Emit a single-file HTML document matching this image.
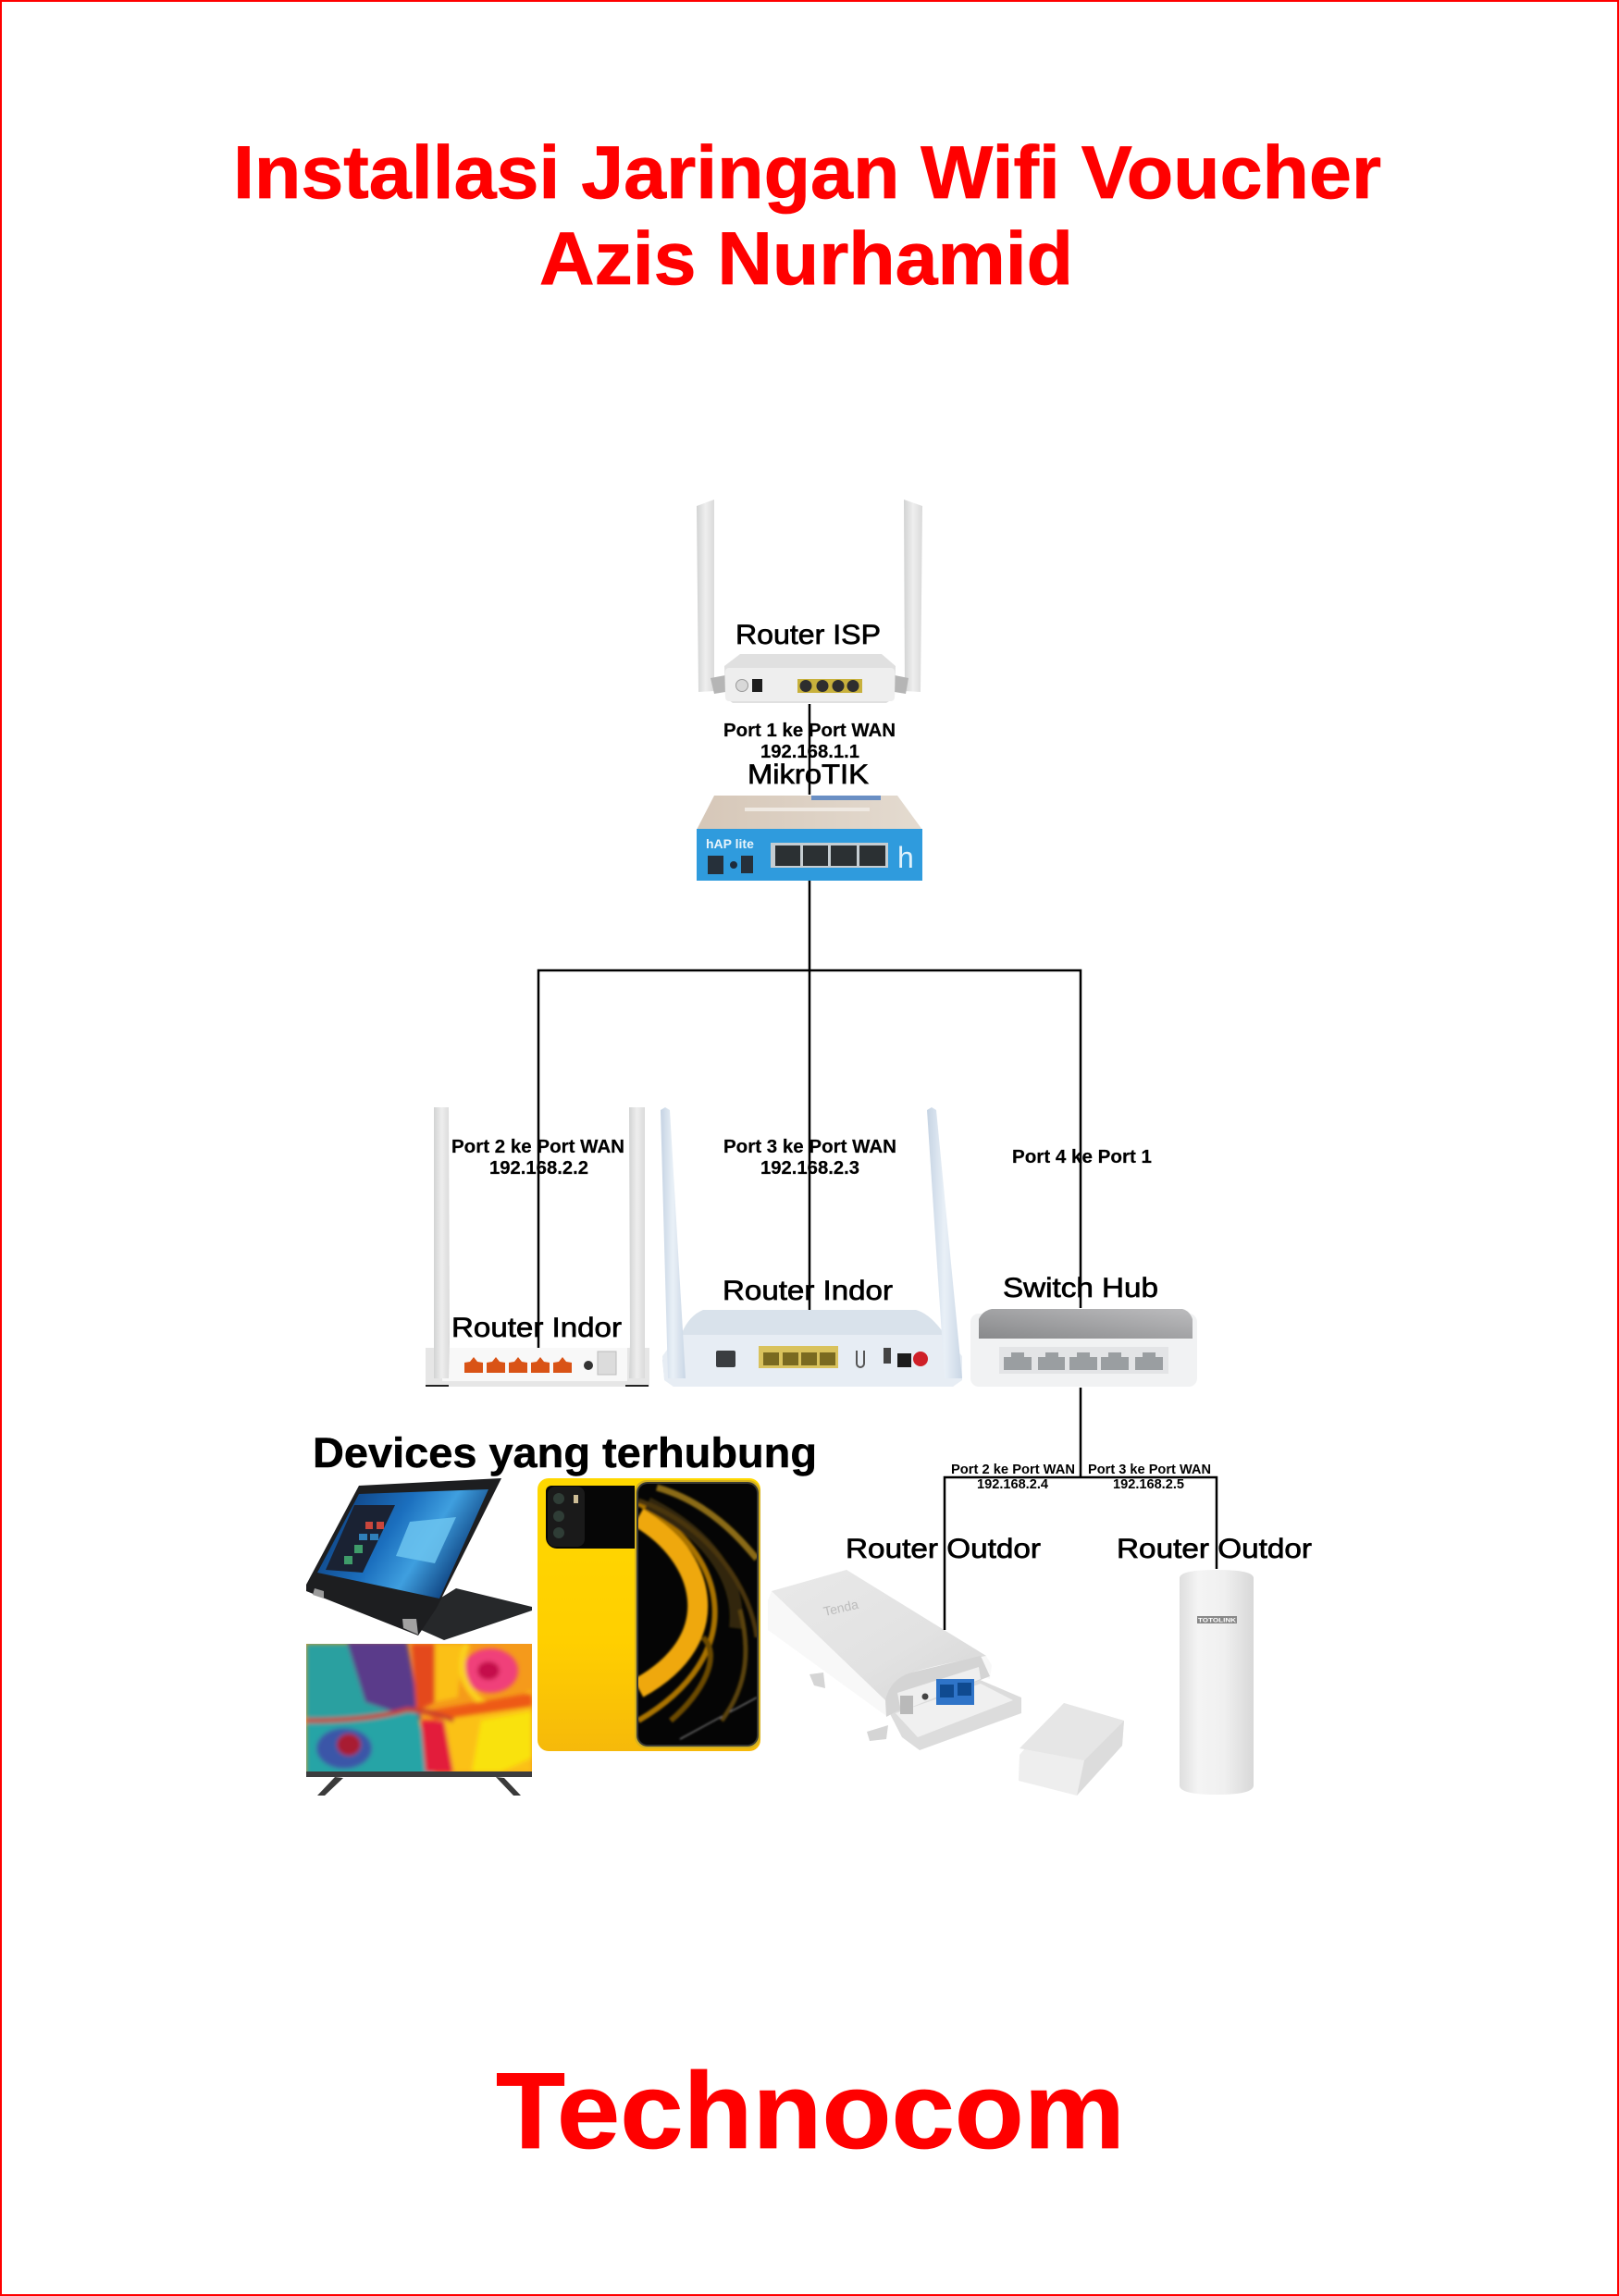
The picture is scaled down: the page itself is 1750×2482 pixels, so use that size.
<!DOCTYPE html>
<html><head><meta charset="utf-8"><title>Installasi Jaringan Wifi Voucher</title>
<style>html,body{margin:0;padding:0;background:#fff}svg{display:block}text{font-family:"Liberation Sans",Arial,sans-serif}</style></head>
<body>
<svg xmlns="http://www.w3.org/2000/svg" width="1750" height="2482" viewBox="0 0 1750 2482">
<defs>
<linearGradient id="ant" x1="0" x2="1" y1="0" y2="0"><stop offset="0" stop-color="#d2d3d3"/><stop offset=".5" stop-color="#eeeeee"/><stop offset="1" stop-color="#dadada"/></linearGradient>
<linearGradient id="antb" x1="0" x2="1" y1="0" y2="0"><stop offset="0" stop-color="#c5d3e3"/><stop offset=".5" stop-color="#e9f0f7"/><stop offset="1" stop-color="#c9d6e5"/></linearGradient>
<linearGradient id="yel" x1="0" x2="0" y1="0" y2="1"><stop offset="0" stop-color="#ffd800"/><stop offset=".6" stop-color="#ffcf00"/><stop offset="1" stop-color="#f6b90a"/></linearGradient>
<linearGradient id="win" x1="0" x2="1" y1="0" y2=".4"><stop offset="0" stop-color="#0a2f68"/><stop offset=".5" stop-color="#1b6fbe"/><stop offset=".72" stop-color="#3f9fdf"/><stop offset="1" stop-color="#0a3a78"/></linearGradient>
<linearGradient id="tt" x1="0" x2="1" y1="0" y2="0"><stop offset="0" stop-color="#dedede"/><stop offset=".25" stop-color="#f4f4f4"/><stop offset=".6" stop-color="#f0f0f0"/><stop offset="1" stop-color="#d8d8d8"/></linearGradient>
<linearGradient id="tsw" x1="1" x2="0" y1="0" y2="1"><stop offset="0" stop-color="#bcbcbe"/><stop offset="1" stop-color="#88898b"/></linearGradient>
<linearGradient id="td" x1="0" x2="1" y1="0" y2="1"><stop offset="0" stop-color="#e9e9e9"/><stop offset=".6" stop-color="#e2e2e2"/><stop offset="1" stop-color="#d6d6d6"/></linearGradient>
<linearGradient id="beige" x1="0" x2="1" y1="0" y2="0"><stop offset="0" stop-color="#d6c7b8"/><stop offset="1" stop-color="#e4dbd0"/></linearGradient>
<filter id="b4" x="-20%" y="-20%" width="140%" height="140%"><feGaussianBlur stdDeviation="2.500"/></filter>
<filter id="b1" x="-10%" y="-10%" width="120%" height="120%"><feGaussianBlur stdDeviation="1"/></filter>
<clipPath id="tvc"><rect x="331" y="1777" width="244" height="139"/></clipPath>
<clipPath id="scr"><rect x="690" y="1604" width="128" height="282" rx="10"/></clipPath>
</defs>
<rect width="1750" height="2482" fill="#fff"/>
<rect x="1" y="1" width="1748" height="2480" fill="none" stroke="#ff0000" stroke-width="2"/>

<!-- Router ISP -->
<polygon points="753,547 772,540 772,747 755,748" fill="url(#ant)"/>
<polygon points="977,540 997,547 995,748 978,747" fill="url(#ant)"/>
<polygon points="768,733 784,730 784,748 772,750" fill="#b5b5b5"/>
<polygon points="967,730 982,733 979,750 967,748" fill="#b5b5b5"/>
<polygon points="800,707 953,707 968,720 967,754 958,760 792,760 784,754 783,720" fill="#e0e0e0"/>
<rect x="784" y="722" width="183" height="36" rx="4" fill="#eeeeee"/>
<circle cx="802" cy="741" r="6.500" fill="#d8d8d8" stroke="#999"/>
<rect x="813" y="734" width="11" height="14" fill="#1e1e1e"/>
<rect x="862" y="734" width="70" height="15" fill="#c8b13c"/>
<circle cx="871" cy="741.500" r="6.500" fill="#2e2e2e"/><circle cx="889" cy="741.500" r="6.500" fill="#2e2e2e"/><circle cx="906" cy="741.500" r="6.500" fill="#2e2e2e"/><circle cx="922" cy="741.500" r="6.500" fill="#2e2e2e"/>

<!-- MikroTik -->
<polygon points="772,860 970,860 997,897 753,897" fill="url(#beige)"/>
<rect x="877" y="860" width="75" height="5" fill="#6a8fc4"/>
<rect x="805" y="873" width="135" height="4" fill="#efe9e2"/>
<rect x="753" y="896" width="244" height="56" fill="#2f9bdd"/>
<rect x="833" y="911" width="127" height="27" fill="#c5cdd2"/>
<rect x="838" y="914" width="27" height="22" fill="#2b3033"/><rect x="868" y="914" width="27" height="22" fill="#2b3033"/><rect x="898" y="914" width="28" height="22" fill="#2b3033"/><rect x="929" y="914" width="28" height="22" fill="#2b3033"/>
<rect x="765" y="925" width="17" height="20" fill="#26303a"/><circle cx="793" cy="935" r="4" fill="#1d2c3d"/><rect x="801" y="925" width="13" height="19" fill="#26303a"/>
<text x="763" y="917" font-size="14" font-weight="bold" fill="#e8f4fb">hAP lite</text>
<text x="970" y="938" font-size="32" fill="#dff1fb">h</text>

<!-- Left indoor router -->
<rect x="460" y="1457" width="242" height="42" fill="#e6e6e6"/>
<rect x="478" y="1457" width="200" height="36" fill="#f8f8f8"/>
<path d="M469,1197h16l1,255l-1,38h-16z" fill="url(#ant)"/>
<path d="M680,1197h17v293h-17l1,-38z" fill="url(#ant)"/>
<g fill="#d95316"><path d="M502,1484v-11l6,-1 4,-5 4,5 6,1v11z"/><path d="M526,1484v-11l6,-1 4,-5 4,5 6,1v11z"/><path d="M550,1484v-11l6,-1 4,-5 4,5 6,1v11z"/><path d="M574,1484v-11l6,-1 4,-5 4,5 6,1v11z"/><path d="M598,1484v-11l6,-1 4,-5 4,5 6,1v11z"/></g>
<circle cx="636" cy="1476" r="5" fill="#333"/>
<rect x="646" y="1461" width="20" height="25" fill="#dcdcdc" stroke="#bbb"/>
<rect x="460" y="1497" width="25" height="2" fill="#222"/><rect x="676" y="1497" width="25" height="2" fill="#222"/>

<!-- Middle indoor router -->
<path d="M760,1416 H990 Q1005,1420 1020,1441 L1040,1470 V1490 L1030,1499 H728 L718,1490 L716,1470 L737,1441 Q745,1422 760,1416Z" fill="#d9e2eb"/>
<polygon points="733,1443 1020,1443 1040,1466 1040,1492 1030,1499 728,1499 718,1492 716,1466" fill="#e7edf4"/>
<polygon points="714,1200 719,1197 724,1200 741,1490 722,1490" fill="url(#antb)"/>
<polygon points="1002,1200 1007,1197 1012,1200 1040,1490 1021,1490" fill="url(#antb)"/>
<rect x="774" y="1460" width="21" height="18" rx="2" fill="#3a3d40"/>
<rect x="820" y="1455" width="86" height="24" fill="#d9c25c"/>
<rect x="825" y="1462" width="17" height="14" fill="#7a6a20"/><rect x="846" y="1462" width="17" height="14" fill="#7a6a20"/><rect x="866" y="1462" width="17" height="14" fill="#7a6a20"/><rect x="886" y="1462" width="17" height="14" fill="#7a6a20"/>
<path d="M926,1460v14a4,4 0 0 0 8,0v-14" fill="none" stroke="#555" stroke-width="2"/>
<rect x="955" y="1457" width="8" height="17" fill="#444"/>
<rect x="970" y="1463" width="15" height="15" fill="#1c1c1c"/>
<circle cx="995" cy="1469" r="8" fill="#cf2028"/>

<!-- Switch -->
<rect x="1049" y="1420" width="245" height="79" rx="9" fill="#f1f2f3"/>
<path d="M1072,1415 H1278 Q1286,1417 1289,1426 V1447 H1058 V1426 Q1062,1417 1072,1415Z" fill="url(#tsw)"/>
<rect x="1080" y="1456" width="183" height="29" fill="#e3e4e6"/>
<g fill="#9a9ea1"><path d="M1085,1481v-14h8v-5h14v5h8v14z"/><path d="M1122,1481v-14h8v-5h14v5h7v14z"/><path d="M1156,1481v-14h8v-5h14v5h8v14z"/><path d="M1190,1481v-14h8v-5h14v5h8v14z"/><path d="M1227,1481v-14h8v-5h14v5h8v14z"/></g>

<!-- Laptop -->
<polygon points="493,1717 575,1737 575,1741 480,1773 435,1753" fill="#26282a"/>
<polygon points="388,1606 542,1598 472,1738 452,1768 331,1720 331,1713" fill="#1d1e20"/>
<polygon points="388,1615 528,1610 475,1728 343,1700" fill="url(#win)"/>
<polygon points="383,1627 427,1627 392,1700 352,1697" fill="#1a2233"/>
<polygon points="443,1645 493,1640 470,1690 428,1682" fill="#6cc4f0" opacity=".85"/>
<g fill="#c9463c"><rect x="395" y="1645" width="8" height="8"/><rect x="407" y="1645" width="8" height="8"/></g>
<g fill="#3f9c6a"><rect x="372" y="1682" width="9" height="9"/><rect x="383" y="1670" width="9" height="9"/></g>
<g fill="#2f7fb8"><rect x="388" y="1658" width="9" height="7"/><rect x="400" y="1658" width="9" height="7"/></g>
<polygon points="340,1717 350,1720 350,1728 338,1724" fill="#9a9a9a"/><polygon points="435,1750 450,1750 452,1767 436,1760" fill="#a2a2a2"/>

<!-- TV -->
<g clip-path="url(#tvc)">
<rect x="331" y="1777" width="244" height="139" fill="#f59a1b"/>
<g filter="url(#b4)">
<polygon points="331,1777 440,1777 450,1850 331,1870" fill="#2aa0a0"/>
<polygon points="375,1775 440,1775 455,1860 395,1840" fill="#5a3a8a"/>
<polygon points="331,1860 450,1850 470,1920 331,1920" fill="#26a4a6"/>
<ellipse cx="372" cy="1890" rx="30" ry="22" fill="#3a56a8"/>
<ellipse cx="377" cy="1886" rx="13" ry="12" fill="#a81d33"/>
<polygon points="445,1777 475,1777 470,1840 450,1850" fill="#e4481d"/>
<polygon points="470,1777 500,1777 495,1835 470,1840" fill="#fbc018"/>
<ellipse cx="530" cy="1806" rx="30" ry="24" fill="#f0407a"/>
<ellipse cx="528" cy="1806" rx="12" ry="10" fill="#c5104c"/>
<path d="M505,1777 Q490,1810 515,1835 T575,1830" fill="none" stroke="#fbd21e" stroke-width="7"/>
<polygon points="460,1850 575,1830 575,1870 470,1860" fill="#ee5a14"/>
<polygon points="470,1860 575,1845 575,1916 475,1916" fill="#fbc116"/>
<polygon points="520,1860 575,1850 575,1900 540,1916 510,1916" fill="#f9e20e"/>
<polygon points="455,1860 480,1860 490,1916 460,1916" fill="#e31c3a"/>
<path d="M331,1860 Q400,1860 440,1848 Q470,1850 490,1860" fill="none" stroke="#c9402a" stroke-width="5"/>
</g>
</g>
<rect x="331" y="1915" width="244" height="6" fill="#3c3c3e"/>
<path d="M362,1921 L371,1922 L351,1941 H343 Z" fill="#3a3a3a"/><path d="M536,1921 L545,1922 L563,1941 H555 Z" fill="#3a3a3a"/>

<!-- Phone -->
<rect x="581" y="1598" width="241" height="295" rx="12" fill="url(#yel)"/>
<path d="M596,1606H686V1674H602a12,12 0 0 1 -12,-12V1612a6,6 0 0 1 6,-6z" fill="#060606"/>
<rect x="592" y="1607" width="40" height="65" rx="8" fill="#1a1a1a"/>
<circle cx="604" cy="1620" r="6" fill="#2f3d36"/><circle cx="604" cy="1639" r="6" fill="#2f3d36"/><circle cx="604" cy="1657" r="6" fill="#2f3d36"/><rect x="620" y="1616" width="5" height="9" fill="#cdbd96"/>
<rect x="686" y="1600" width="136" height="290" rx="13" fill="#d3b021"/>
<rect x="688" y="1602" width="132" height="286" rx="12" fill="#3a3a32"/>
<rect x="690" y="1604" width="128" height="282" rx="10" fill="#050505"/>
<g clip-path="url(#scr)" fill="none" filter="url(#b1)">
<path d="M690,1640 C760,1680 790,1770 690,1825" stroke="#efa80c" stroke-width="22"/>
<path d="M690,1625 C790,1680 810,1790 690,1860" stroke="#a87206" stroke-width="6"/>
<path d="M700,1625 C780,1665 800,1720 795,1760" stroke="#332708" stroke-width="14"/>
<path d="M710,1608 C770,1625 805,1670 818,1685" stroke="#8a6a12" stroke-width="7"/>
<path d="M690,1622 C770,1650 812,1720 818,1770" stroke="#4a3608" stroke-width="5"/>
<path d="M760,1770 C780,1790 760,1830 725,1860" stroke="#6a4a06" stroke-width="6"/>
<path d="M735,1880 L818,1835" stroke="#9a9a9a" stroke-width="1"/>
<path d="M800,1740 C810,1780 810,1820 780,1860" stroke="#5a4208" stroke-width="5"/>
</g>

<!-- Tenda -->
<polygon points="875,1810 890,1808 892,1825 880,1822" fill="#d5d5d5"/><polygon points="937,1872 960,1865 958,1880 940,1882" fill="#d5d5d5"/>
<polygon points="957,1843 1057,1815 1104,1835 1104,1852 994,1892 975,1878" fill="#dcdcdc"/>
<polygon points="968,1852 1060,1820 1095,1838 992,1878" fill="#f0f0f0"/>
<path d="M834,1720 L915,1697 L1066,1790 L1072,1800 L1070,1815 L1060,1812 L968,1848 L958,1855 L830,1762 L830,1730 Z" fill="#f8f8f8"/>
<path d="M834,1720 L915,1697 L1066,1790 Q1020,1798 985,1808 Q965,1815 957,1838 Z" fill="url(#td)"/>
<path d="M957,1838 Q962,1815 985,1808 L1060,1790 L1070,1812 L1060,1816 L969,1850 L958,1856 Z" fill="#d4d4d4"/>
<polygon points="970,1830 1058,1802 1060,1815 974,1850" fill="#efefef"/>
<rect x="1012" y="1815" width="41" height="28" fill="#2f74c8"/>
<rect x="1016" y="1821" width="15" height="14" fill="#0f4a90"/><rect x="1035" y="1819" width="15" height="14" fill="#0f4a90"/>
<rect x="973" y="1833" width="14" height="20" fill="#b9b9b9"/><circle cx="1000" cy="1834" r="3.500" fill="#444"/>
<text x="890" y="1745" font-size="14" fill="#bcbcbc" font-family="Liberation Serif" transform="rotate(-13 900 1740)">Tenda</text>
<polygon points="1150,1841 1215,1860 1213,1887 1164,1941 1101,1925 1102,1897" fill="#eeeeee"/>
<polygon points="1150,1841 1215,1860 1172,1903 1102,1890" fill="#e6e6e6"/>
<polygon points="1172,1903 1215,1860 1213,1887 1164,1941" fill="#dcdcdc"/>

<!-- Totolink -->
<path d="M1277,1706 q0,-9 40,-9 q40,0 40,9 V1930 q0,10 -40,10 q-40,0 -40,-10 Z" fill="url(#tt)" transform="translate(-2,0)"/>
<rect x="1294" y="1747" width="43" height="8" fill="#888"/>
<text x="1315.500" y="1753.500" font-size="6.500" font-weight="bold" fill="#fff" text-anchor="middle" textLength="41" lengthAdjust="spacingAndGlyphs">TOTOLINK</text>

<!-- Text -->
<g fill="#ff0000" font-weight="bold" stroke="#ff0000" stroke-width=".8">
<text x="252" y="214" font-size="81" textLength="1241" lengthAdjust="spacingAndGlyphs">Installasi Jaringan Wifi Voucher</text>
<text x="583" y="307" font-size="81" textLength="577" lengthAdjust="spacingAndGlyphs">Azis Nurhamid</text>
<text x="536" y="2322" font-size="117" textLength="680" lengthAdjust="spacingAndGlyphs">Technocom</text>
</g>
<g fill="#000" font-size="30" stroke="#000" stroke-width=".7">
<text x="795" y="696" textLength="157" lengthAdjust="spacingAndGlyphs">Router ISP</text>
<text x="808" y="847" textLength="131" lengthAdjust="spacingAndGlyphs">MikroTIK</text>
<text x="488" y="1445" textLength="184" lengthAdjust="spacingAndGlyphs">Router Indor</text>
<text x="781" y="1405" textLength="184" lengthAdjust="spacingAndGlyphs">Router Indor</text>
<text x="1084" y="1402" textLength="168" lengthAdjust="spacingAndGlyphs">Switch Hub</text>
<text x="914" y="1684" textLength="211" lengthAdjust="spacingAndGlyphs">Router Outdor</text>
<text x="1207" y="1684" textLength="211" lengthAdjust="spacingAndGlyphs">Router Outdor</text>
</g>
<g fill="#000" font-weight="bold" font-size="20" stroke="#000" stroke-width=".2">
<text x="782" y="796" textLength="186" lengthAdjust="spacingAndGlyphs">Port 1 ke Port WAN</text>
<text x="822" y="819" textLength="107" lengthAdjust="spacingAndGlyphs">192.168.1.1</text>
<text x="488" y="1246" textLength="187" lengthAdjust="spacingAndGlyphs">Port 2 ke Port WAN</text>
<text x="529" y="1269" textLength="107" lengthAdjust="spacingAndGlyphs">192.168.2.2</text>
<text x="782" y="1246" textLength="187" lengthAdjust="spacingAndGlyphs">Port 3 ke Port WAN</text>
<text x="822" y="1269" textLength="107" lengthAdjust="spacingAndGlyphs">192.168.2.3</text>
<text x="1094" y="1257" textLength="151" lengthAdjust="spacingAndGlyphs">Port 4 ke Port 1</text>
</g>
<g fill="#000" font-weight="bold" font-size="15">
<text x="1028" y="1593" textLength="134" lengthAdjust="spacingAndGlyphs">Port 2 ke Port WAN</text>
<text x="1056" y="1609" textLength="77" lengthAdjust="spacingAndGlyphs">192.168.2.4</text>
<text x="1176" y="1593" textLength="133" lengthAdjust="spacingAndGlyphs">Port 3 ke Port WAN</text>
<text x="1203" y="1609" textLength="77" lengthAdjust="spacingAndGlyphs">192.168.2.5</text>
</g>
<text x="338" y="1586" fill="#000" font-weight="bold" font-size="45" textLength="545" lengthAdjust="spacingAndGlyphs" stroke="#000" stroke-width=".5">Devices yang terhubung</text>

<!-- Connectors -->
<g fill="none" stroke="#000" stroke-width="2.500">
<path d="M875,761V859"/>
<path d="M875,952V1416"/>
<path d="M582,1457V1049H1168V1414"/>
<path d="M1168,1500V1597"/>
<path d="M1021,1762V1597H1315V1696"/>
</g>
</svg>
</body></html>
